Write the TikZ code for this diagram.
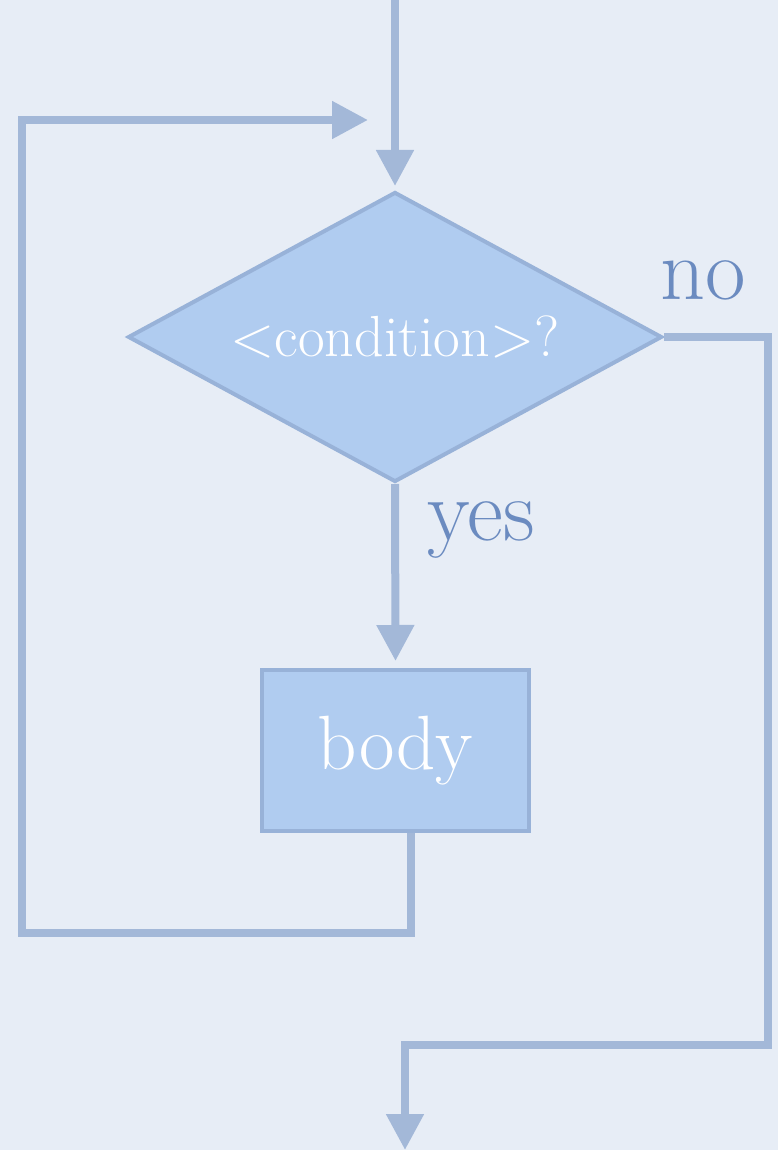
\documentclass[tikz,border=0pt]{standalone}
\usetikzlibrary{shapes.geometric,arrows.meta}
\definecolor{bg}{HTML}{E7EDF6}
\definecolor{linec}{HTML}{A3B8D8}
\definecolor{boxfill}{HTML}{B0CCF0}
\definecolor{boxline}{HTML}{98B2D8}
\definecolor{labelc}{HTML}{6B8BC0}
\begin{document}
\begin{tikzpicture}[x=1pt,y=-1pt,
  conn/.style={draw=linec,line width=8pt},
  tip/.style={-{Triangle[length=36pt,width=36pt]}},
  boxstyle/.style={fill=boxfill,draw=boxline,line width=4pt,text=white,inner sep=0pt},
  lab/.style={text=labelc,font=\fontsize{88}{88}\selectfont,inner sep=0pt}]
\fill[bg] (0,0) rectangle (778,1150);
\useasboundingbox (0,0) rectangle (778,1150);
\node[boxstyle,diamond,aspect=1.84,minimum width=534pt,minimum height=290pt,font=\fontsize{58}{58}\selectfont] (dia) at (395,337) {<condition>?};
\node[boxstyle,rectangle,minimum width=267pt,minimum height=161pt,font=\fontsize{77}{77}\selectfont] (body) at (395.5,750.5) {body};
\node[lab] (no) at (703,280) {no};
\node[lab] (yes) at (481,530) {yes};
\coordinate (top) at (395,0);
\coordinate (c1) at (768,1045);
\coordinate (out) at (405,1150);
\coordinate (c2) at (22,933);
\coordinate (in) at (368,120);
\draw[conn,tip,shorten >=4pt] (top) -- (dia.north);
\draw[conn,tip,shorten >=7pt] (dia.south) -- (body.north);
\draw[conn,tip] (dia.east) -| (c1) -| (out);
\draw[conn,tip] ([xshift=15pt]body.south) |- (c2) |- (in);
\end{tikzpicture}
\end{document}
